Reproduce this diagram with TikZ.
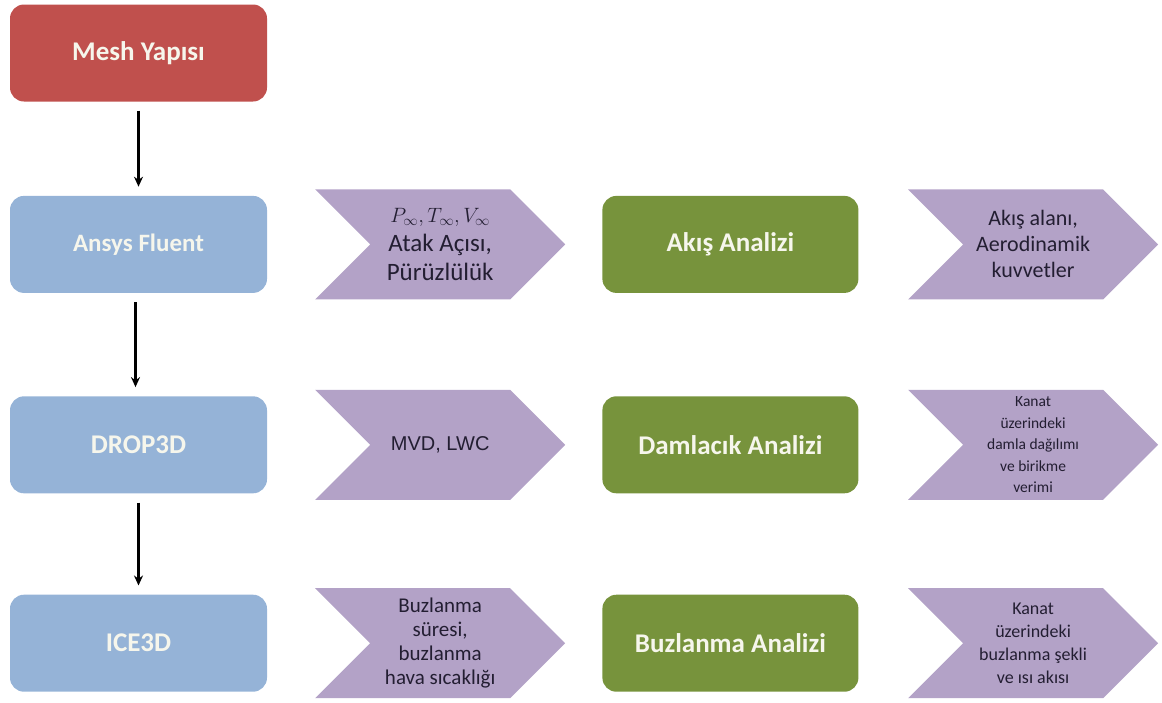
\documentclass[tikz,border=0pt]{standalone}
\usepackage{fontspec}
\setmainfont{Carlito}
\newfontfamily\arialfont{Liberation Sans}
\usetikzlibrary{shapes,arrows.meta,positioning}
\definecolor{meshcolor}{RGB}{192,80,77}
\definecolor{solvercolor}{RGB}{149,179,215}
\definecolor{analysiscolor}{RGB}{119,147,60}
\definecolor{chevroncolor}{RGB}{179,162,199}
\definecolor{labelcolor}{RGB}{246,246,236}
\definecolor{chevtextcolor}{RGB}{35,30,50}

\begin{document}
\begin{tikzpicture}[
    node distance=100pt,
    tool/.style={rectangle, rounded corners=14pt, fill=solvercolor, text=labelcolor, font=\fontsize{27}{32}\selectfont\bfseries, align=center, minimum width=257pt, minimum height=97pt, inner sep=0pt},
    analysis/.style={tool, fill=analysiscolor, minimum width=256pt},
    chev/.style={signal, signal from=west, signal to=east, signal pointer angle=90, fill=chevroncolor, text=chevtextcolor, align=center, minimum width=250pt, minimum height=110pt, inner sep=0pt},
    arrow/.style={->, >={Stealth[length=10pt, width=9pt]}, line width=2.2pt, shorten <=9pt, shorten >=9pt}
]
\useasboundingbox (0,0) rectangle (1162pt,-702pt);

% Solver chain (left column)
\node[tool, fill=meshcolor] (mesh) at (138.5pt,-53pt) {Mesh Yapısı};
\node[tool, below=94pt of mesh, font=\fontsize{25}{30}\selectfont\bfseries] (fluent) {Ansys Fluent};
\node[tool, below=103pt of fluent] (drop) {DROP3D};
\node[tool, below=101pt of drop] (ice) {ICE3D};

% Analysis boxes
\node[analysis, right=335pt of fluent] (akis) {Akış Analizi};
\node[analysis, right=335pt of drop] (damla) {Damlacık Analizi};
\node[analysis, right=335pt of ice] (buz) {Buzlanma Analizi};

% Inputs
\node[chev, font=\fontsize{25}{29}\selectfont] (in_akis) at ([xshift=173pt]fluent.east) {{\fontsize{21}{29}\selectfont$P_{\infty}, T_{\infty}, V_{\infty}$}\\Atak Açısı,\\Pürüzlülük};
\node[chev, font=\arialfont\fontsize{20}{24}\selectfont] (in_damla) at ([xshift=173pt]drop.east) {MVD, LWC};
\node[chev, font=\fontsize{21}{24}\selectfont] (in_buz) at ([xshift=173pt]ice.east) {Buzlanma\\süresi,\\buzlanma\\hava sıcaklığı};

% Outputs
\node[chev, font=\fontsize{22}{26}\selectfont] (out_akis) at ([xshift=174.5pt]akis.east) {Akış alanı,\\Aerodinamik\\kuvvetler};
\node[chev, font=\fontsize{15.5}{21.5}\selectfont] (out_damla) at ([xshift=174.5pt]damla.east) {Kanat\\üzerindeki\\damla dağılımı\\ve birikme\\verimi};
\node[chev, font=\fontsize{18}{23}\selectfont] (out_buz) at ([xshift=174.5pt]buz.east) {Kanat\\üzerindeki\\buzlanma şekli\\ve ısı akısı};

% Arrows
\draw[arrow] (mesh) -- (fluent);
\draw[arrow] ([xshift=-3pt]fluent.south) -- ([xshift=-3pt]drop.north);
\draw[arrow] (drop) -- (ice);

\end{tikzpicture}
\end{document}
